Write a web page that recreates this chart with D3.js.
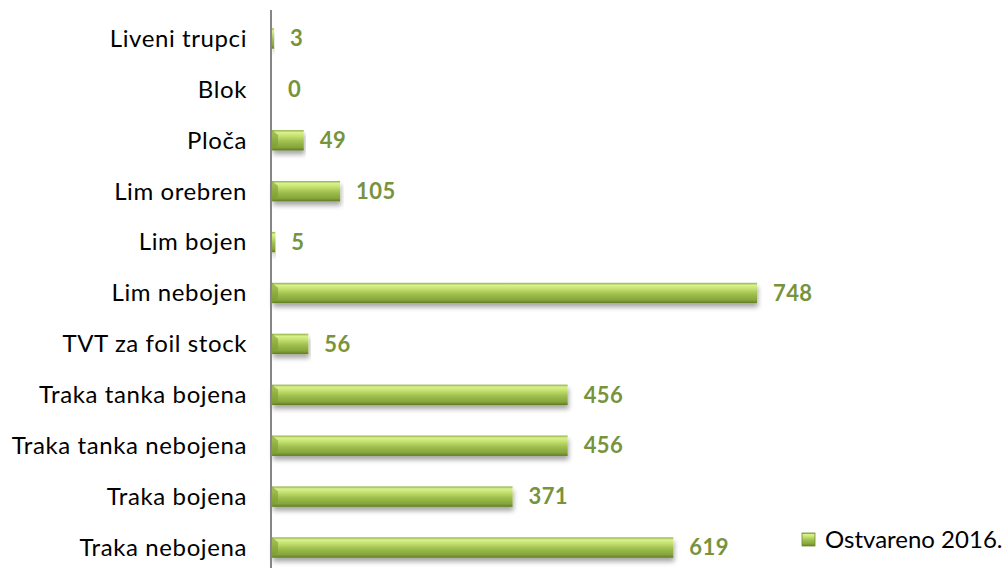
<!DOCTYPE html>
<html>
<head>
<meta charset="utf-8">
<script src="https://cdn.jsdelivr.net/npm/d3@7"></script>
<style>
  body { margin: 0; background: #fff; }
  text { font-family: Lato, "Open Sans", sans-serif; }
</style>
</head>
<body>
<div id="chart-area"></div>
<script>
const categories = ["Liveni trupci", "Blok", "Ploča", "Lim orebren", "Lim bojen", "Lim nebojen",
  "TVT za foil stock", "Traka tanka bojena", "Traka tanka nebojena", "Traka bojena", "Traka nebojena"];
const values = [3, 0, 49, 105, 5, 748, 56, 456, 456, 371, 619];
const seriesName = "Ostvareno 2016.";

const width = 1002, height = 568;
const margin = {top: 13, right: 0, bottom: -5, left: 272};

var svg = d3.select("#chart-area").append("svg")
  .attr("width", width)
  .attr("height", height);

// 渐变和阴影
var defs = svg.append("defs");
var grad = defs.append("linearGradient")
  .attr("id", "barGrad")
  .attr("x1", 0).attr("y1", 0).attr("x2", 0).attr("y2", 1);
[[0, "#8fb043"], [0.12, "#d9f28e"], [0.3, "#c4e06e"], [0.55, "#9fbf4f"], [0.85, "#86a53a"], [1, "#5f7a25"]]
  .forEach(s => grad.append("stop").attr("offset", s[0]).attr("stop-color", s[1]));

var shadow = defs.append("filter").attr("id", "shadow")
  .attr("x", "-5%").attr("y", "-20%").attr("width", "110%").attr("height", "180%");
shadow.append("feGaussianBlur").attr("in", "SourceAlpha").attr("stdDeviation", 2.5);
shadow.append("feOffset").attr("dx", 1).attr("dy", 4).attr("result", "b");
shadow.append("feComponentTransfer").append("feFuncA").attr("type", "linear").attr("slope", 0.35);
var merge = shadow.append("feMerge");
merge.append("feMergeNode");
merge.append("feMergeNode").attr("in", "SourceGraphic");

// 比例尺
var x = d3.scaleLinear()
  .domain([0, 748])
  .range([margin.left, 757]);

var y = d3.scaleBand()
  .domain(categories)
  .range([margin.top, height - margin.bottom])
  .paddingInner(0.6)
  .paddingOuter(0.3);

// 条形图
var g = svg.append("g");
g.selectAll(".bar")
  .data(values)
  .enter().append("rect")
  .attr("class", "bar")
  .attr("x", x(0))
  .attr("y", (d, i) => y(categories[i]))
  .attr("width", d => x(d) - x(0))
  .attr("height", y.bandwidth())
  .attr("fill", "url(#barGrad)")
  .attr("filter", "url(#shadow)");

// 斜面高光
g.selectAll(".bevel")
  .data(values.map((d, i) => [d, i]).filter(p => x(p[0]) - x(0) > 12))
  .enter().append("path")
  .attr("class", "bevel")
  .attr("d", p => {
    var y0 = y(categories[p[1]]), h = y.bandwidth();
    var x0 = x(0);
    return `M${x0},${y0} L${x0 + 6},${y0 + 5} L${x0 + 6},${y0 + h - 5} L${x0},${y0 + h} Z`;
  })
  .attr("fill", "#7d9c33")
  .attr("opacity", 0.6);

// y轴线
svg.append("line")
  .attr("x1", x(0) - 1).attr("x2", x(0) - 1)
  .attr("y1", 10).attr("y2", height)
  .attr("stroke", "#868686")
  .attr("stroke-width", 2);

// 类别标签
svg.selectAll(".cat")
  .data(categories)
  .enter().append("text")
  .attr("class", "cat")
  .attr("x", 247)
  .attr("y", d => y(d) + y.bandwidth() / 2)
  .attr("dy", ".35em")
  .attr("text-anchor", "end")
  .style("font-size", "24px")
  .style("letter-spacing", "0.6px")
  .style("fill", "#000")
  .text(d => d);

// 数值标签
svg.selectAll(".val")
  .data(values)
  .enter().append("text")
  .attr("class", "val")
  .attr("x", d => x(d) + 16)
  .attr("y", (d, i) => y(categories[i]) + y.bandwidth() / 2)
  .attr("dy", ".35em")
  .style("font-size", "22px")
  .style("font-weight", "bold")
  .style("letter-spacing", "0.4px")
  .style("fill", "#77933c")
  .text(d => d);

// 图例
svg.append("rect")
  .attr("x", 802).attr("y", 533)
  .attr("width", 13).attr("height", 13)
  .attr("fill", "url(#barGrad)")
  .attr("stroke", "#6e8a30")
  .attr("stroke-width", 0.8);
svg.append("text")
  .attr("x", 825).attr("y", 540)
  .attr("dy", ".35em")
  .style("font-size", "24px")
  .style("fill", "#000")
  .text(seriesName);
</script>
</body>
</html>
